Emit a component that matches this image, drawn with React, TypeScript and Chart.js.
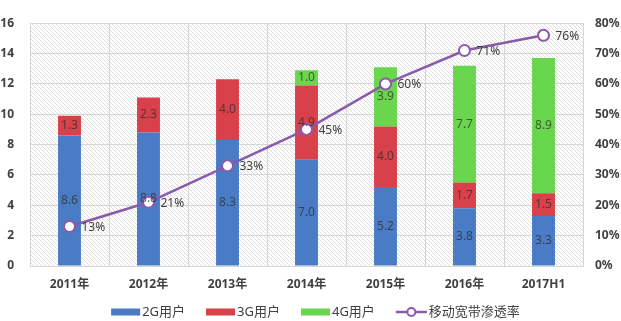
import React, { useEffect, useRef } from "react";
import { Chart, registerables } from "chart.js";

Chart.register(...registerables);

const categories = ["2011年", "2012年", "2013年", "2014年", "2015年", "2016年", "2017H1"];
const users2G = [8.6, 8.8, 8.3, 7.0, 5.2, 3.8, 3.3];
const users3G = [1.3, 2.3, 4.0, 4.9, 4.0, 1.7, 1.5];
const users4G = [0, 0, 0, 1.0, 3.9, 7.7, 8.9];
const penetration = [13, 21, 33, 45, 60, 71, 76];

const seriesNames = ["2G用户", "3G用户", "4G用户", "移动宽带渗透率"];
const COLORS = { g2: "#4a7cc5", g3: "#d8414a", g4: "#69d64d", line: "#8a5aab" };
const FONT = "'Noto Sans', 'Noto Sans CJK SC', sans-serif";

function makePattern(ctx: CanvasRenderingContext2D) {
  const c = document.createElement("canvas");
  c.width = 4;
  c.height = 4;
  const p = c.getContext("2d")!;
  p.fillStyle = "#ffffff";
  p.fillRect(0, 0, 4, 4);
  p.fillStyle = "#dedede";
  for (let i = 0; i < 4; i++) p.fillRect(i, i, 1, 1);
  return ctx.createPattern(c, "repeat");
}

const bgPlugin = {
  id: "hatchBg",
  beforeDraw(chart: any) {
    const { ctx, chartArea } = chart;
    ctx.save();
    const pat = makePattern(ctx);
    if (pat) ctx.fillStyle = pat;
    ctx.fillRect(chartArea.left, chartArea.top, chartArea.right - chartArea.left, chartArea.bottom - chartArea.top);
    ctx.restore();
  },
};

const labelPlugin = {
  id: "valueLabels",
  afterDatasetsDraw(chart: any) {
    const { ctx } = chart;
    ctx.save();
    ctx.font = `12px ${FONT}`;
    chart.data.datasets.forEach((ds: any, di: number) => {
      const meta = chart.getDatasetMeta(di);
      meta.data.forEach((el: any, i: number) => {
        const v = ds.data[i];
        if (ds.type === "line") {
          ctx.fillStyle = "#404040";
          ctx.textAlign = "left";
          ctx.textBaseline = "middle";
          ctx.fillText(v + "%", el.x + 12, el.y + 1);
        } else {
          if (!v) return;
          ctx.fillStyle = "rgba(45,45,45,0.72)";
          ctx.textAlign = "center";
          ctx.textBaseline = "middle";
          ctx.fillText(v.toFixed(1), el.x, (el.y + el.base) / 2);
        }
      });
    });
    ctx.restore();
  },
};

const legendPlugin = {
  id: "customLegend",
  afterDraw(chart: any) {
    const { ctx, width } = chart;
    ctx.save();
    ctx.font = `13px ${FONT}`;
    const boxW = 29;
    const lineW = 31;
    const gapText = 2;
    const gapItem = 21;
    const colors = [COLORS.g2, COLORS.g3, COLORS.g4, COLORS.line];
    const widths = seriesNames.map((n, i) => (i === 3 ? lineW : boxW) + gapText + ctx.measureText(n).width);
    const total = widths.reduce((a, b) => a + b, 0) + gapItem * (widths.length - 1);
    let x = (width - total) / 2 + 5;
    const y = 312;
    seriesNames.forEach((n, i) => {
      if (i < 3) {
        ctx.fillStyle = colors[i];
        ctx.fillRect(x, y - 3.5, boxW, 7);
        x += boxW;
      } else {
        ctx.strokeStyle = colors[i];
        ctx.lineWidth = 2.5;
        ctx.beginPath();
        ctx.moveTo(x, y);
        ctx.lineTo(x + lineW, y);
        ctx.stroke();
        ctx.fillStyle = "#fff";
        ctx.lineWidth = 2;
        ctx.beginPath();
        ctx.arc(x + lineW / 2, y, 4, 0, Math.PI * 2);
        ctx.fill();
        ctx.stroke();
        x += lineW;
      }
      x += gapText;
      ctx.fillStyle = "#404040";
      ctx.textAlign = "left";
      ctx.textBaseline = "middle";
      ctx.fillText(n, x, y);
      x += ctx.measureText(n).width + gapItem;
    });
    ctx.restore();
  },
};

export default function App() {
  const ref = useRef<HTMLCanvasElement>(null);
  useEffect(() => {
    document.body.style.margin = "0";
    const tickFont = { family: FONT, size: 12, weight: "bold" as const };
    const chart = new Chart(ref.current!, {
      type: "bar",
      data: {
        labels: categories,
        datasets: [
          {
            type: "line",
            label: seriesNames[3],
            data: penetration,
            yAxisID: "y1",
            borderColor: COLORS.line,
            borderWidth: 2.5,
            pointBackgroundColor: "#ffffff",
            pointBorderColor: COLORS.line,
            pointBorderWidth: 2,
            pointRadius: 5.5,
            tension: 0,
            order: 0,
          } as any,
          { type: "bar", label: seriesNames[0], data: users2G, backgroundColor: COLORS.g2, yAxisID: "y", order: 1, barPercentage: 0.29, categoryPercentage: 1 },
          { type: "bar", label: seriesNames[1], data: users3G, backgroundColor: COLORS.g3, yAxisID: "y", order: 1, barPercentage: 0.29, categoryPercentage: 1 },
          { type: "bar", label: seriesNames[2], data: users4G, backgroundColor: COLORS.g4, yAxisID: "y", order: 1, barPercentage: 0.29, categoryPercentage: 1 },
        ],
      },
      options: {
        responsive: false,
        animation: false,
        layout: { padding: { top: 12, left: 0, right: 0, bottom: 0 } },
        plugins: { legend: { display: false }, tooltip: { enabled: false } },
        scales: {
          x: {
            stacked: true,
            offset: true,
            grid: { color: "#d6d6d6", drawTicks: false, offset: true },
            border: { color: "#d6d6d6" },
            ticks: { color: "#404040", font: tickFont, padding: 11, maxRotation: 0 },
            afterFit: (s: any) => { s.height = 55; },
          },
          y: {
            stacked: true,
            position: "left",
            min: 0,
            max: 16,
            ticks: { stepSize: 2, color: "#404040", font: tickFont, padding: 16 },
            grid: { color: "#d6d6d6", drawTicks: false },
            border: { display: false },
            afterFit: (s: any) => { s.width = 30; },
          },
          y1: {
            position: "right",
            min: 0,
            max: 80,
            ticks: { stepSize: 10, color: "#404040", font: tickFont, padding: 12, callback: (v: any) => v + "%" },
            grid: { display: false, drawTicks: false },
            border: { display: false },
            afterFit: (s: any) => { s.width = 38; },
          },
        },
      },
      plugins: [bgPlugin, labelPlugin, legendPlugin],
    });
    return () => chart.destroy();
  }, []);
  return <canvas ref={ref} width={621} height={321} style={{ display: "block" }} />;
}
